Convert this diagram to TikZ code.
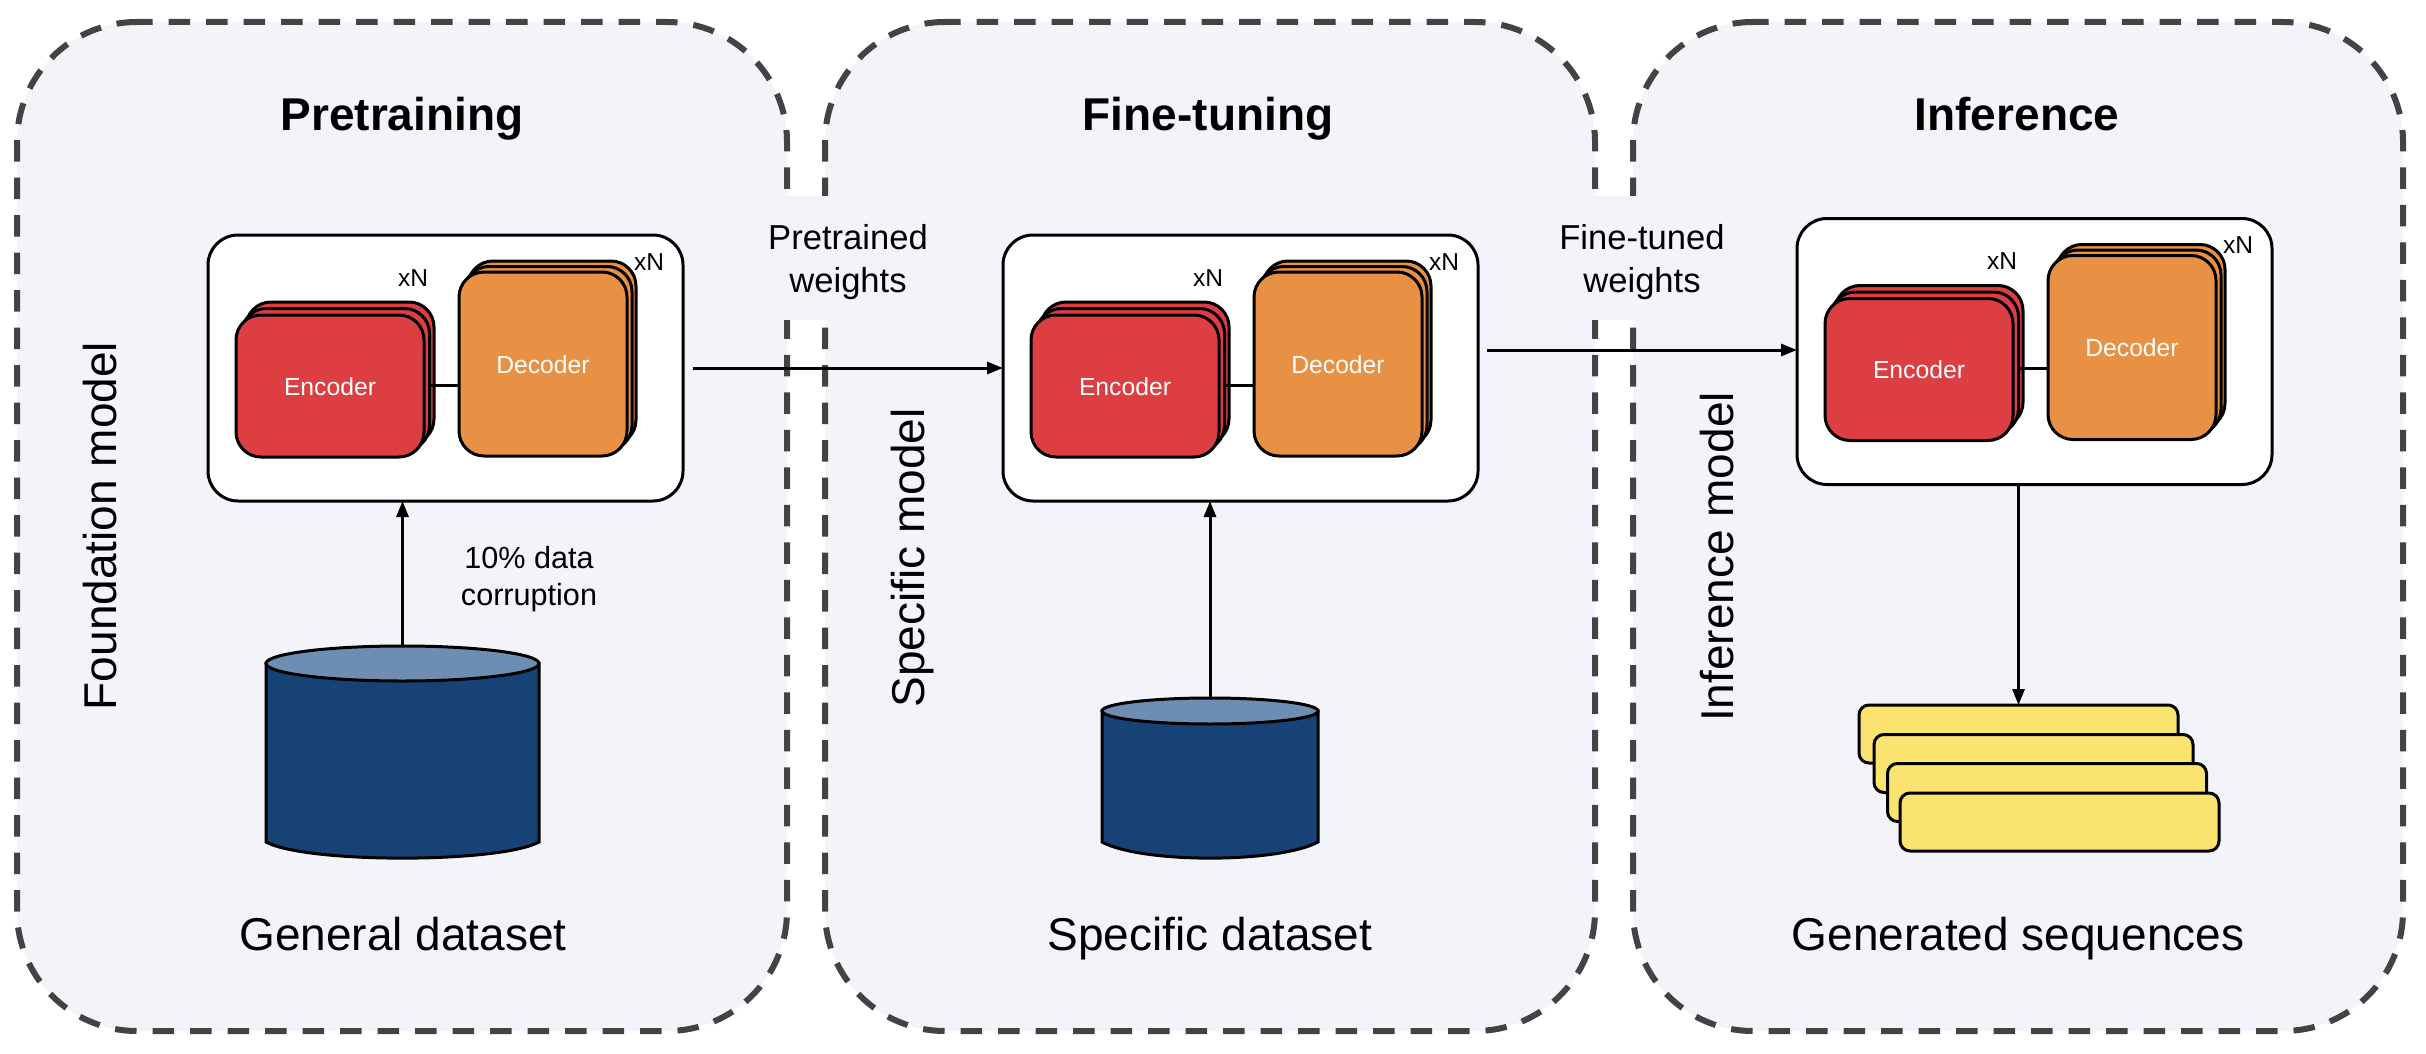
\documentclass[tikz,border=0pt]{standalone}
\usepackage{fontspec}
\setmainfont{Liberation Sans}
\usetikzlibrary{arrows.meta,shapes.geometric}
\definecolor{panelfill}{HTML}{F3F4FA}
\definecolor{paneledge}{HTML}{434343}
\definecolor{encfill}{HTML}{DC3E42}
\definecolor{decfill}{HTML}{E89144}
\definecolor{cardfill}{HTML}{FBE36F}
\definecolor{dbbody}{HTML}{174276}
\definecolor{dbtop}{HTML}{6E8DB2}
\tikzset{
  panelline/.style={draw=paneledge,fill=panelfill,line width=6pt,dash pattern=on 21.5pt off 16pt,dash phase=6pt},
  cover/.style={fill=panelfill,draw=none,inner sep=0pt,outer sep=0pt,minimum height=124pt},
  modelbox/.style={draw=black,fill=white,line width=3pt,rounded corners=30pt,minimum width=475pt,minimum height=266pt,inner sep=0pt,outer sep=0pt},
  encbox/.style={draw=black,fill=encfill,line width=3pt,rounded corners=25pt,minimum width=188pt,minimum height=142pt,inner sep=0pt,outer sep=0pt},
  decbox/.style={draw=black,fill=decfill,line width=3pt,rounded corners=25pt,minimum width=168pt,minimum height=184pt,inner sep=0pt,outer sep=0pt},
  cardbox/.style={draw=black,fill=cardfill,line width=3pt,rounded corners=10pt,minimum width=319pt,minimum height=58pt,inner sep=0pt,outer sep=0pt},
  dbcap/.style={ellipse,draw=black,fill=dbtop,line width=3pt,inner sep=0pt,outer sep=0pt},
  dbside/.style={draw=black,fill=dbbody,line width=3pt},
  flow/.style={draw=black,line width=3pt,-{Triangle[length=16pt,width=12pt]}},
  link/.style={draw=black,line width=3pt},
  titletext/.style={anchor=base,inner sep=0pt,font=\fontsize{46}{50}\selectfont\bfseries},
  bigtext/.style={anchor=base,inner sep=0pt,font=\fontsize{46}{50}\selectfont},
  midtext/.style={anchor=base,inner sep=0pt,align=center,font=\fontsize{34.6}{43}\selectfont},
  smalltext/.style={anchor=base,inner sep=0pt,align=center,font=\fontsize{30.6}{37}\selectfont},
  blocktext/.style={text=white,anchor=base,inner sep=0pt,font=\fontsize{24.7}{28}\selectfont},
  ntext/.style={anchor=base,inner sep=0pt,font=\fontsize{24.5}{28}\selectfont},
}
\newcommand{\panelshape}[2]{% left, right
  \path[panelline] (#1+120,22) -- (#2-120,22) arc[start angle=-90,end angle=0,radius=120]
    -- (#2,911) arc[start angle=0,end angle=90,radius=120]
    -- (#1+120,1031) arc[start angle=90,end angle=180,radius=120]
    -- (#1,142) arc[start angle=180,end angle=270,radius=120] -- cycle;
}
\newcommand{\modelblock}[3]{% id, dx, dy
  \begin{scope}[shift={(#2,#3)}]
    \node[modelbox] (box#1) at (445.5,368) {};
    \node[encbox] (enc#1c) at (340,373) {};
    \node[encbox] (enc#1b) at (335.5,379.5) {};
    \node[decbox] (dec#1c) at (552,353) {};
    \node[decbox] (dec#1b) at (548,358.5) {};
    \node[encbox] (enc#1a) at (330,386) {};
    \node[decbox] (dec#1a) at (543,364) {};
    \draw[link] (enc#1b.east |- 0,385) -- (dec#1a.west |- 0,385);
    \node[blocktext] (enctext#1) at (330,395) {Encoder};
    \node[blocktext] (dectext#1) at (543,373) {Decoder};
    \node[ntext] (xa#1) at (413,286) {xN};
    \node[ntext] (xb#1) at (649,270) {xN};
  \end{scope}
}
\newcommand{\database}[6]{% id, left, right, captop, capbottom, bottom
  \path[dbside] (#2,{(#4+#5)/2}) -- (#2,#6-16) .. controls (#2+40,#6+5.5) and (#3-40,#6+5.5) .. (#3,#6-16) -- (#3,{(#4+#5)/2}) -- cycle;
  \node[dbcap,minimum width=#3-#2,minimum height=#5-#4] (cap#1) at ({(#2+#3)/2},{(#4+#5)/2}) {};
}
\begin{document}
\begin{tikzpicture}[x=1pt,y=-1pt]
\useasboundingbox (0,0) rectangle (2426,1054);
\fill[white] (0,0) rectangle (2426,1054);
\panelshape{17}{787}
\panelshape{825}{1595}
\panelshape{1633}{2403}
\node[cover,minimum width=190pt] (covera) at (855,258) {};
\node[cover,minimum width=170pt] (coverb) at (1650,258) {};
\node[titletext] (t1) at (402,131) {Pretraining};
\node[titletext] (t2) at (1208,131) {Fine-tuning};
\node[titletext] (t3) at (2017,131) {Inference};
\node[bigtext,rotate=90] (r1) at (116,526) {Foundation model};
\node[bigtext,rotate=90] (r2) at (924,558) {Specific model};
\node[bigtext,rotate=90] (r3) at (1733,557) {Inference model};
\node[midtext] (wa) at (848,292) {Pretrained\\weights};
\node[midtext] (wb) at (1642,292) {Fine-tuned\\weights};
\modelblock{1}{0}{0}
\modelblock{2}{795}{0}
\modelblock{3}{1589}{-16.5}
\database{1}{266}{539}{646}{681}{858}
\database{2}{1102}{1318}{698}{724}{858}
\node[smalltext] (corrupt) at (529,605) {10\% data\\corruption};
\node[bigtext] (b1) at (403,950) {General dataset};
\node[bigtext] (b2) at (1210,950) {Specific dataset};
\node[bigtext] (b3) at (2018,950) {Generated sequences};
\node[cardbox] (card1) at (2018.5,734) {};
\node[cardbox] (card2) at (2033.5,763.5) {};
\node[cardbox] (card3) at (2047,792.5) {};
\node[cardbox] (card4) at (2059.5,822) {};
\coordinate (outa) at (693,368);
\coordinate (outb) at (1487,350);
\draw[flow] (outa) -- (box2.west);
\draw[flow] (outb) -- (outb -| box3.west);
\draw[flow] (cap1.north) -- (box1.south -| cap1.north);
\draw[flow] (cap2.north) -- (box2.south -| cap2.north);
\coordinate (outc) at (card1.north);
\draw[flow] (box3.south -| outc) -- (outc);
\end{tikzpicture}
\end{document}
